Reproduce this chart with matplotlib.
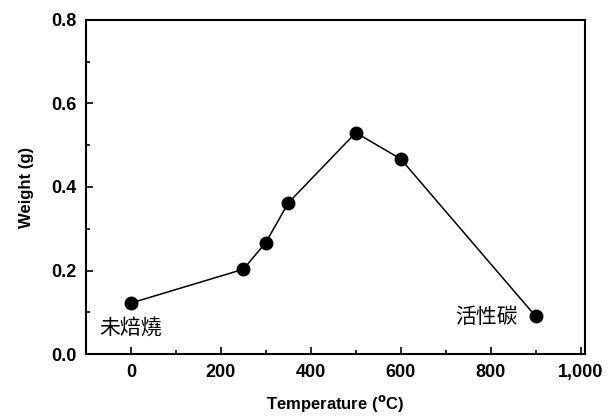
import matplotlib.pyplot as plt
import numpy as np
from matplotlib.ticker import MultipleLocator, FuncFormatter

# data
temperature = [0, 250, 300, 350, 500, 600, 900]
weight = [0.122, 0.203, 0.267, 0.362, 0.530, 0.467, 0.090]

plt.rcParams['font.family'] = ['Liberation Sans', 'Noto Sans CJK TC', 'DejaVu Sans']

fig = plt.figure(figsize=(6.09, 4.16), dpi=100)
ax = fig.add_axes([0.141, 0.149, 0.820, 0.803])

ax.plot(temperature, weight, color='black', lw=1.1, marker='o', markersize=9)

ax.text(0, 0.063, '未焙燒', family=['Noto Sans CJK TC'], fontsize=15,
        ha='center', va='center')
ax.text(860, 0.088, '活性碳', family=['Noto Sans CJK TC'], fontsize=15,
        ha='right', va='center')

ax.set_xlim(-100, 1010)
ax.set_ylim(0, 0.8)
ax.xaxis.set_major_locator(MultipleLocator(200))
ax.xaxis.set_minor_locator(MultipleLocator(100))
ax.yaxis.set_major_locator(MultipleLocator(0.2))
ax.yaxis.set_minor_locator(MultipleLocator(0.1))
ax.xaxis.set_major_formatter(FuncFormatter(lambda v, p: f'{int(v):,}'))
ax.yaxis.set_major_formatter(FuncFormatter(lambda v, p: f'{v:.1f}'))
ax.tick_params(which='both', direction='in', top=False, right=False, width=1.2)
ax.tick_params(which='major', length=5, labelsize=13, pad=7)
ax.tick_params(which='minor', length=3)
for lbl in ax.get_xticklabels() + ax.get_yticklabels():
    lbl.set_fontweight('bold')
for s in ax.spines.values():
    s.set_linewidth(1.5)

ax.set_xlabel('Temperature ($^{\\mathbf{o}}$C)', fontsize=12, fontweight='bold', labelpad=9)
ax.set_ylabel('Weight (g)', fontsize=12, fontweight='bold', labelpad=12)

plt.savefig('out.png', dpi=100)
